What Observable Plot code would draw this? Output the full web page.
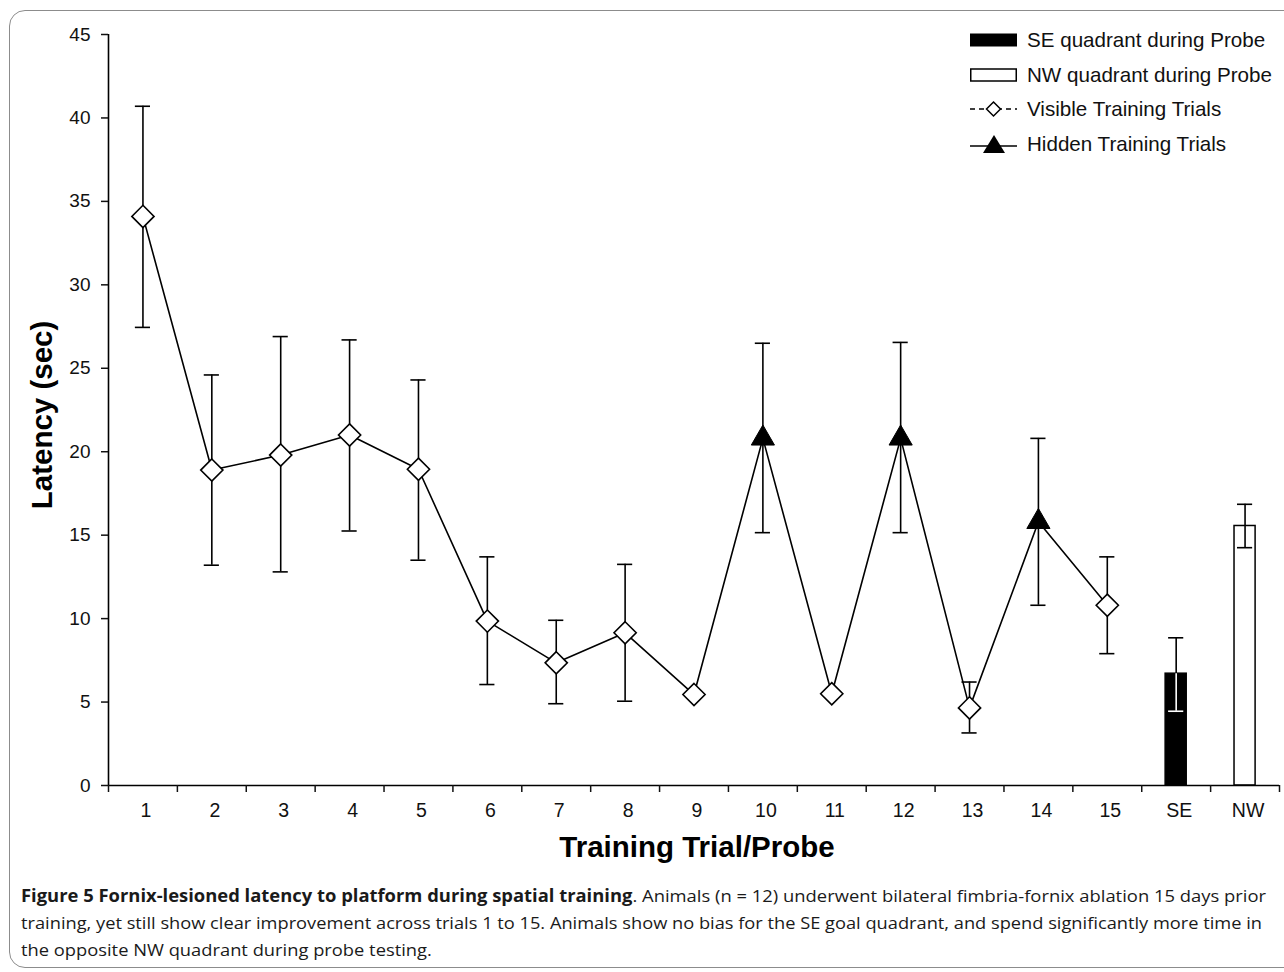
<!DOCTYPE html>
<html><head><meta charset="utf-8">
<script src="https://cdn.jsdelivr.net/npm/d3@7"></script>
<script src="https://cdn.jsdelivr.net/npm/@observablehq/plot@0.6"></script>
<style>
body{margin:0;background:#fff;width:1284px;height:972px;overflow:hidden;position:relative;font-family:"Liberation Sans",Arial,sans-serif;}
#frame{position:absolute;left:9px;top:10px;width:1300px;height:958px;border:1px solid #8c8c8c;border-radius:16px;box-sizing:border-box;pointer-events:none;z-index:5;}
#chart{position:absolute;left:0;top:0;}
#legend{position:absolute;left:970px;top:23px;z-index:3;}
.row{height:34.5px;display:flex;align-items:center;font-size:20.6px;color:#111;white-space:nowrap;}
.row svg{margin-right:10px;flex:none;}
#caption{position:absolute;left:21px;top:882px;font-family:"Open Sans",sans-serif;font-size:17px;line-height:27px;color:#1a1a1a;}
#caption .ln{display:block;white-space:nowrap;width:max-content;transform-origin:0 0;}
</style></head><body>
<div id="frame"></div>
<div id="chart"></div>
<div id="legend"></div>
<div id="caption"></div>
<script>
// ---- data ----
const categories = ["1","2","3","4","5","6","7","8","9","10","11","12","13","14","15","SE","NW"];
const trialMeans = [34.1, 18.9, 19.8, 21.0, 18.95, 9.85, 7.35, 9.15, 5.45, 20.8, 5.5, 20.8, 4.65, 15.8, 10.8];
const trialUpper = [40.7, 24.6, 26.9, 26.7, 24.3, 13.7, 9.9, 13.25, null, 26.5, null, 26.55, 6.2, 20.8, 13.7];
const trialLower = [27.45, 13.2, 12.8, 15.25, 13.5, 6.05, 4.9, 5.05, null, 15.15, null, 15.15, 3.15, 10.8, 7.9];
const trialType = ["Visible","Visible","Visible","Visible","Visible","Visible","Visible","Visible","Visible","Hidden","Visible","Hidden","Visible","Hidden","Visible"];
const probeLabels = ["SE","NW"];
const probeMeans = [6.7, 15.55];
const probeUpper = [8.85, 16.85];
const probeLower = [4.45, 14.25];
const probeFill = ["black","white"];
const probeInnerStroke = ["white","black"];
const yTicks = [0,5,10,15,20,25,30,35,40,45];
const legendItems = ["SE quadrant during Probe","NW quadrant during Probe","Visible Training Trials","Hidden Training Trials"];

// ---- tables ----
const trials = trialMeans.map((m,i)=>({pos:i+0.5, mean:m, hi:trialUpper[i], lo:trialLower[i], type:trialType[i]}));
const trialErr = trials.filter(d=>d.hi!=null);
const probes = probeMeans.map((m,i)=>({pos:categories.indexOf(probeLabels[i])+0.5, mean:m, hi:probeUpper[i], lo:probeLower[i], fill:probeFill[i], inner:probeInnerStroke[i]}));
const barHalf = 0.153, capHalf = 0.11;

const chart = Plot.plot({
  width:1284, height:870,
  marginLeft:108, marginRight:5, marginTop:34, marginBottom:85,
  style:{fontFamily:"'Liberation Sans', Arial, sans-serif", background:"none", color:"#111", overflow:"visible"},
  x:{domain:[0,categories.length], axis:null},
  y:{domain:[0,45], axis:null},
  marks:[
    Plot.rect(probes,{x1:d=>d.pos-barHalf, x2:d=>d.pos+barHalf, y1:0, y2:"mean", fill:"fill", stroke:"black", strokeWidth:1.5}),
    Plot.line(trials,{x:"pos", y:"mean", stroke:"black", strokeWidth:1.6}),
    Plot.ruleX(trialErr,{x:"pos", y1:"lo", y2:"hi", stroke:"black", strokeWidth:1.6}),
    Plot.ruleY(trialErr,{y:"hi", x1:d=>d.pos-capHalf, x2:d=>d.pos+capHalf, stroke:"black", strokeWidth:1.6}),
    Plot.ruleY(trialErr,{y:"lo", x1:d=>d.pos-capHalf, x2:d=>d.pos+capHalf, stroke:"black", strokeWidth:1.6}),
    Plot.ruleX(probes,{x:"pos", y1:"mean", y2:"hi", stroke:"black", strokeWidth:1.6}),
    Plot.ruleY(probes,{y:"hi", x1:d=>d.pos-capHalf, x2:d=>d.pos+capHalf, stroke:"black", strokeWidth:1.6}),
    Plot.ruleX(probes,{x:"pos", y1:"lo", y2:"mean", stroke:"inner", strokeWidth:1.6}),
    Plot.ruleY(probes,{y:"lo", x1:d=>d.pos-capHalf, x2:d=>d.pos+capHalf, stroke:"inner", strokeWidth:1.6}),
    Plot.dot(trials.filter(d=>d.type==="Visible"),{x:"pos", y:"mean", symbol:"diamond2", r:10, fill:"white", stroke:"black", strokeWidth:1.6}),
    Plot.dot(trials.filter(d=>d.type==="Hidden"),{x:"pos", y:"mean", symbol:"triangle", r:8.6, fill:"black", stroke:"black", strokeWidth:1}),
    Plot.ruleX([0],{y1:0, y2:45, stroke:"black", strokeWidth:1.6}),
    Plot.ruleY([0],{stroke:"black", strokeWidth:1.6}),
    Plot.axisY({ticks:yTicks, tickSize:7, tickPadding:11, fontSize:19, label:null, strokeWidth:1.5}),
    Plot.axisX({ticks:d3.range(0,categories.length+1), tickSize:7, tickFormat:()=>"", label:null, strokeWidth:1.5}),
    Plot.axisX({ticks:categories.map((c,i)=>i+0.5), tickFormat:d=>categories[Math.floor(d)], tickSize:0, tickPadding:18, fontSize:19.5, dx:3, label:null}),
    Plot.text(["Latency (sec)"],{frameAnchor:"left", textAnchor:"middle", rotate:-90, dx:-66, dy:5, fontSize:29.5, fontWeight:"bold", fill:"black"}),
    Plot.text(["Training Trial/Probe"],{frameAnchor:"bottom", dy:71, dx:3, fontSize:29.5, fontWeight:"bold", fill:"black"})
  ]
});
document.getElementById("chart").appendChild(chart);

// ---- legend ----
const swatches = [
  `<svg width="47" height="20"><rect x="0.5" y="4" width="46" height="12" fill="black" stroke="black"/></svg>`,
  `<svg width="47" height="20"><rect x="0.75" y="4" width="45.5" height="12" fill="white" stroke="black" stroke-width="1.5"/></svg>`,
  `<svg width="47" height="20"><line x1="0" y1="10" x2="47" y2="10" stroke="black" stroke-width="1.5" stroke-dasharray="5,4"/><path d="M23.5,3 L30.5,10 L23.5,17 L16.5,10 Z" fill="white" stroke="black" stroke-width="1.5"/></svg>`,
  `<svg width="47" height="22"><line x1="0" y1="13" x2="47" y2="13" stroke="black" stroke-width="1.6"/><path d="M24,2 L35,20 L13,20 Z" fill="black"/></svg>`
];
const lg = document.getElementById("legend");
legendItems.forEach((t,i)=>{
  const r = document.createElement("div"); r.className="row";
  r.innerHTML = swatches[i] + `<span>${t}</span>`;
  lg.appendChild(r);
});

// ---- caption ----
const cap = document.getElementById("caption");
const lines = [
  `<b style="font-weight:700">Figure 5 Fornix-lesioned latency to platform during spatial training</b>. Animals (n = 12) underwent bilateral fimbria-fornix ablation 15 days prior`,
  `training, yet still show clear improvement across trials 1 to 15. Animals show no bias for the SE goal quadrant, and spend significantly more time in`,
  `the opposite NW quadrant during probe testing.`
];
const targets = [1245, 1241, null];
const els = lines.map(h=>{const s=document.createElement("span"); s.className="ln"; s.innerHTML=h; cap.appendChild(s); return s;});
const scales = els.map((e,i)=> targets[i] ? targets[i]/e.getBoundingClientRect().width : null);
const avg = (scales[0]+scales[1])/2;
els.forEach((e,i)=>{ e.style.transform = `scaleX(${scales[i] ?? avg})`; });
</script>
</body></html>
